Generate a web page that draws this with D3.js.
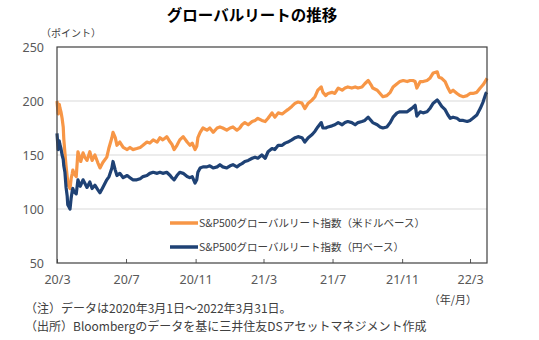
<!DOCTYPE html>
<html>
<head>
<meta charset="utf-8">
<script src="https://cdn.jsdelivr.net/npm/d3@7"></script>
<style>
  body { margin: 0; background: #fff; }
  text { font-family: "Noto Sans CJK JP", "Noto Sans", sans-serif; }
</style>
</head>
<body>
<script>
var dates = [
  "2020-03-01","2020-03-03","2020-03-05","2020-03-06","2020-03-08","2020-03-10","2020-03-12","2020-03-13",
  "2020-03-15","2020-03-17","2020-03-19","2020-03-20","2020-03-22","2020-03-24","2020-03-26","2020-03-28",
  "2020-03-29","2020-03-31","2020-04-04","2020-04-07","2020-04-11","2020-04-12","2020-04-16","2020-04-19",
  "2020-04-23","2020-04-28","2020-05-02","2020-05-07","2020-05-12","2020-05-16","2020-05-21","2020-05-28",
  "2020-06-01","2020-06-06","2020-06-08","2020-06-12","2020-06-15","2020-06-20","2020-06-26","2020-07-03",
  "2020-07-08","2020-07-13","2020-07-20","2020-07-26","2020-07-31","2020-08-07","2020-08-12","2020-08-18",
  "2020-08-25","2020-08-30","2020-09-04","2020-09-11","2020-09-17","2020-09-20","2020-09-24","2020-09-29",
  "2020-10-04","2020-10-10","2020-10-17","2020-10-22","2020-10-26","2020-10-31","2020-11-03","2020-11-05",
  "2020-11-09","2020-11-14","2020-11-21","2020-11-26","2020-12-02","2020-12-09","2020-12-14","2020-12-19",
  "2020-12-26","2021-01-01","2021-01-06","2021-01-13","2021-01-18","2021-01-22","2021-01-27","2021-02-02",
  "2021-02-09","2021-02-14","2021-02-19","2021-02-26","2021-03-04","2021-03-09","2021-03-16","2021-03-21",
  "2021-03-27","2021-04-03","2021-04-08","2021-04-13","2021-04-20","2021-04-26","2021-05-01","2021-05-08",
  "2021-05-13","2021-05-19","2021-05-26","2021-05-31","2021-06-05","2021-06-11","2021-06-14","2021-06-19",
  "2021-06-23","2021-06-30","2021-07-05","2021-07-11","2021-07-18","2021-07-23","2021-07-28","2021-08-04",
  "2021-08-10","2021-08-15","2021-08-22","2021-08-27","2021-09-02","2021-09-07","2021-09-10","2021-09-18",
  "2021-09-23","2021-09-28","2021-10-05","2021-10-11","2021-10-16","2021-10-23","2021-10-28","2021-11-03",
  "2021-11-10","2021-11-15","2021-11-20","2021-11-24","2021-11-27","2021-12-03","2021-12-08","2021-12-15",
  "2021-12-20","2021-12-26","2022-01-02","2022-01-05","2022-01-10","2022-01-16","2022-01-21","2022-01-25",
  "2022-01-30","2022-02-06","2022-02-11","2022-02-17","2022-02-24","2022-03-01","2022-03-06","2022-03-13",
  "2022-03-19","2022-03-24","2022-03-29","2022-03-31"
];

// 米ドルベース
var usd = [
  200,188,197,194,190,184,176,165, 152,140,130,125,121,119,128,133,
  136,133,130,153,146,144,152,148, 145,153,145,150,143,138,143,148,
  157,166,171,166,159,162,157,155, 157,155,156,157,159,162,161,164,
  162,166,164,167,162,160,155,159, 164,167,162,159,161,155,158,166,
  171,175,173,175,171,175,176,175, 173,175,176,173,175,178,180,178,
  181,182,184,182,181,184,189,185, 189,188,190,192,195,198,199,198,
  193,198,201,204,210,213,208,205, 207,208,207,212,210,212,213,212,
  213,212,213,216,219,215,212,210, 207,204,205,208,213,216,218,219,
  218,219,219,218,212,218,218,219, 221,226,227,222,221,218,212,208,
  210,207,205,204,205,207,207,208, 212,215,219,221
];

// 円ベース
var jpy = [
  170,155,163,160,156,150,146,140, 134,120,112,104,102,100,110,117,
  119,116,114,127,121,122,127,124, 120,125,119,122,118,115,120,127,
  130,138,144,136,131,133,129,131, 129,127,127,128,130,131,133,134,
  133,134,133,134,131,129,127,131, 134,133,130,129,130,124,127,134,
  138,139,139,140,138,139,141,139, 138,140,141,139,141,142,144,145,
  147,148,147,150,147,153,156,155, 159,159,161,162,164,166,167,166,
  162,166,169,172,176,180,175,175, 176,177,178,180,178,180,181,180,
  178,180,181,182,185,182,180,178, 176,175,176,180,185,189,190,190,
  190,192,194,196,186,190,189,190, 193,198,201,199,195,192,187,184,
  185,184,182,182,181,182,184,187, 193,199,207,208
];

var yTicks = [50, 100, 150, 200, 250];
var gridValues = [100, 150, 200];
var tickDates = ["2020-03-01","2020-07-01","2020-11-01","2021-03-01","2021-07-01","2021-11-01","2022-03-01"];
var tickLabels = ["20/3","20/7","20/11","21/3","21/7","21/11","22/3"];
var seriesNames = ["S&P500グローバルリート指数（米ドルベース）", "S&P500グローバルリート指数（円ベース）"];

var margin = {top: 47, left: 57},
    width = 430,
    height = 216;

var colors = ["#f79646", "#1f4275"];
var parse = d3.timeParse("%Y-%m-%d");

var x = d3.scaleTime()
    .domain([parse("2020-03-01"), parse("2022-03-31")])
    .range([0, width]);

var y = d3.scaleLinear()
    .domain([50, 250])
    .range([height, 0]);

var svg = d3.select("body").append("svg")
    .attr("width", 539)
    .attr("height", 340);

svg.append("text")
    .attr("x", 252)
    .attr("y", 21)
    .attr("text-anchor", "middle")
    .style("font-size", "15.5px")
    .style("font-weight", "bold")
    .style("fill", "#000")
    .text("グローバルリートの推移");

svg.append("text")
    .attr("x", 41)
    .attr("y", 37)
    .style("font-size", "10px")
    .style("fill", "#404040")
    .text("（ポイント）");

var g = svg.append("g")
    .attr("transform", "translate(" + margin.left + "," + margin.top + ")");

g.selectAll(".grid")
    .data(gridValues)
  .enter().append("line")
    .attr("class", "grid")
    .attr("x1", 0)
    .attr("x2", width)
    .attr("y1", function(d) { return y(d); })
    .attr("y2", function(d) { return y(d); })
    .style("stroke", "#d9d9d9")
    .style("stroke-width", 1);

var yAxis = g.append("g")
    .call(d3.axisLeft(y).tickValues(yTicks).tickSize(0).tickPadding(13));
yAxis.select(".domain").remove();
yAxis.selectAll("text")
    .style("font-size", "12.5px")
    .style("fill", "#595959")
    .style("font-family", "'Noto Sans', sans-serif");

var xAxis = g.append("g")
    .attr("transform", "translate(0," + height + ")")
    .call(d3.axisBottom(x)
      .tickValues(tickDates.map(parse))
      .tickSize(-4)
      .tickPadding(12)
      .tickFormat(function(d, i) { return tickLabels[i]; }));
xAxis.select(".domain").remove();
xAxis.selectAll("line").style("stroke", "#595959");
xAxis.selectAll("text")
    .style("font-size", "12.5px")
    .style("fill", "#595959")
    .style("font-family", "'Noto Sans', sans-serif");

var line = d3.line()
    .x(function(d) { return x(d[0]); })
    .y(function(d) { return y(d[1]); });

[usd, jpy].forEach(function(s, k) {
  g.append("path")
      .datum(s.map(function(v, i) { return [parse(dates[i]), v]; }))
      .attr("d", line)
      .style("fill", "none")
      .style("stroke", colors[k])
      .style("stroke-width", 3.2)
      .style("stroke-linejoin", "round");
});

g.append("rect")
    .attr("width", width)
    .attr("height", height)
    .style("fill", "none")
    .style("stroke", "#404040")
    .style("stroke-width", 1.2);

var legend = g.selectAll(".legend")
    .data(seriesNames)
  .enter().append("g")
    .attr("class", "legend")
    .attr("transform", function(d, i) { return "translate(113," + (176 + i * 24) + ")"; });

legend.append("line")
    .attr("x1", 0)
    .attr("x2", 28)
    .style("stroke", function(d, i) { return colors[i]; })
    .style("stroke-width", 3.5);

legend.append("text")
    .attr("x", 29)
    .attr("dy", "0.36em")
    .style("font-size", "10.5px")
    .style("fill", "#404040")
    .text(function(d) { return d; });

svg.append("text")
    .attr("x", 477)
    .attr("y", 304)
    .attr("text-anchor", "end")
    .style("font-size", "11px")
    .style("fill", "#404040")
    .text("（年/月）");

svg.append("text")
    .attr("x", 25)
    .attr("y", 313)
    .style("font-size", "12px")
    .style("fill", "#404040")
    .text("（注）データは2020年3月1日～2022年3月31日。");

svg.append("text")
    .attr("x", 25)
    .attr("y", 331)
    .style("font-size", "12px")
    .style("fill", "#404040")
    .text("（出所）Bloombergのデータを基に三井住友DSアセットマネジメント作成");
</script>
</body>
</html>
